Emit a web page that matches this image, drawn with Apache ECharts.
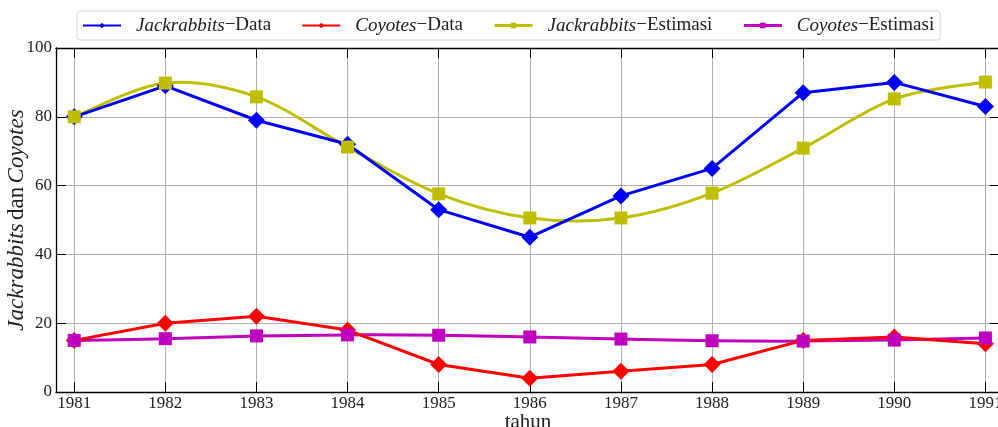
<!DOCTYPE html>
<html>
<head>
<meta charset="utf-8">
<script src="https://cdn.jsdelivr.net/npm/echarts@6/dist/echarts.min.js"></script>
<style>
  html, body { margin: 0; padding: 0; background: #fff; }
  #chart { width: 998px; height: 427px; }
</style>
</head>
<body>
<div id="chart"></div>
<script>
// Annual population counts and model estimates
const years = [1981, 1982, 1983, 1984, 1985, 1986, 1987, 1988, 1989, 1990, 1991];
const jackrabbitsData = [80, 89, 79, 72, 53, 45, 57, 65, 87, 90, 83];
const coyotesData = [15, 20, 22, 18, 8, 4, 6, 8, 15, 16, 14];
const jackrabbitsEst = [80, 89.8, 85.8, 71.2, 57.6, 50.6, 50.6, 57.8, 70.9, 85.2, 90.1];
const coyotesEst = [15, 15.5, 16.3, 16.6, 16.5, 16.0, 15.4, 14.9, 14.8, 15.1, 15.7];
const yTicks = [0, 20, 40, 60, 80, 100];

const FONT = '"Liberation Serif", "DejaVu Serif", serif';
const pairs = vals => years.map((y, i) => [y, vals[i]]);

const COLORS = { jack: '#0000ff', coy: '#ff0000', jackEst: '#bfbf00', coyEst: '#bf00bf' };

const richText = {
  i: { fontFamily: FONT, fontStyle: 'italic', fontSize: 19, color: '#222', padding: [0, 0, 0, 10] },
  r: { fontFamily: FONT, fontSize: 19, color: '#222' }
};

function lineSeries(name, vals, color, symbol, size, extra) {
  return Object.assign({
    name: name,
    type: 'line',
    data: pairs(vals),
    symbol: symbol,
    symbolSize: size,
    lineStyle: { color: color, width: 3 },
    itemStyle: { color: color },
    emphasis: { disabled: true },
    animation: false,
    xAxisIndex: 0,
    yAxisIndex: 0
  }, extra || {});
}

// Smooth curve through the estimate points (Catmull-Rom spline in pixel space)
function curveSeries(name, vals, color) {
  return {
    name: name,
    type: 'custom',
    data: pairs(vals),
    silent: true,
    animation: false,
    clip: true,
    renderItem: function (params, api) {
      if (params.dataIndex !== 0) return null;
      const pts = years.map((y, i) => api.coord([y, vals[i]]));
      const n = pts.length;
      let d = 'M' + pts[0][0] + ',' + pts[0][1];
      for (let i = 0; i < n - 1; i++) {
        const p0 = pts[Math.max(i - 1, 0)];
        const p1 = pts[i];
        const p2 = pts[i + 1];
        const p3 = pts[Math.min(i + 2, n - 1)];
        const c1x = p1[0] + (p2[0] - p0[0]) / 6;
        const c1y = p1[1] + (p2[1] - p0[1]) / 6;
        const c2x = p2[0] - (p3[0] - p1[0]) / 6;
        const c2y = p2[1] - (p3[1] - p1[1]) / 6;
        d += ' C' + c1x + ',' + c1y + ' ' + c2x + ',' + c2y + ' ' + p2[0] + ',' + p2[1];
      }
      return {
        type: 'path',
        shape: { pathData: d },
        style: { fill: null, stroke: color, lineWidth: 3 }
      };
    }
  };
}

const chart = echarts.init(document.getElementById('chart'), null, { renderer: 'canvas' });

const tickStyle = { show: true, inside: true, length: 10, lineStyle: { color: '#000', width: 1 } };
const spine = { show: true, onZero: false, lineStyle: { color: '#000', width: 1.3 } };
const gridLine = { show: true, lineStyle: { color: '#b0b0b0', width: 1 } };

chart.setOption({
  backgroundColor: '#fff',
  animation: false,
  grid: { left: 56, top: 48, width: 944, height: 344, containLabel: false, outerBoundsMode: 'none' },
  legend: {
    left: 77,
    top: 11,
    padding: [5, 6, 5, 5],
    itemWidth: 38,
    itemHeight: 7,
    itemGap: 30,
    borderColor: '#d4d4d4',
    borderWidth: 1,
    borderRadius: 3,
    textStyle: { rich: richText },
    formatter: function (name) {
      const parts = name.split('−');
      return '{i|' + parts[0] + '}{r|−' + parts[1] + '}';
    },
    data: [
      'Jackrabbits−Data',
      'Coyotes−Data',
      { name: 'Jackrabbits−Estimasi', lineStyle: { color: COLORS.jackEst, width: 3, opacity: 1 } },
      { name: 'Coyotes−Estimasi', lineStyle: { color: COLORS.coyEst, width: 3, opacity: 1 } }
    ]
  },
  xAxis: [
    {
      type: 'value',
      min: 1980.8,
      max: 1991.16,
      minInterval: 1,
      maxInterval: 1,
      position: 'bottom',
      axisLine: spine,
      axisTick: tickStyle,
      splitLine: gridLine,
      axisLabel: {
        margin: 3,
        fontFamily: FONT,
        fontSize: 17,
        color: '#222',
        formatter: v => (Number.isInteger(v) ? String(v) : '')
      },
      name: 'tahun',
      nameLocation: 'middle',
      nameGap: 20,
      nameMoveOverlap: false,
      nameTextStyle: { fontFamily: FONT, fontSize: 21, color: '#222', verticalAlign: 'top' }
    },
    {
      type: 'value',
      min: 1980.8,
      max: 1991.16,
      minInterval: 1,
      maxInterval: 1,
      position: 'top',
      axisLine: spine,
      axisTick: tickStyle,
      splitLine: { show: false },
      axisLabel: { show: false }
    }
  ],
  yAxis: [
    {
      type: 'value',
      min: yTicks[0],
      max: yTicks[yTicks.length - 1],
      interval: 20,
      position: 'left',
      axisLine: spine,
      axisTick: tickStyle,
      splitLine: gridLine,
      axisLabel: { margin: 4, fontFamily: FONT, fontSize: 17, color: '#222' },
      name: '{i|Jackrabbits} {r|dan} {i|Coyotes}',
      nameLocation: 'middle',
      nameRotate: 90,
      nameGap: 28,
      nameMoveOverlap: false,
      nameTextStyle: {
        rich: {
          i: { fontFamily: FONT, fontStyle: 'italic', fontSize: 23, color: '#222' },
          r: { fontFamily: FONT, fontSize: 23, color: '#222' }
        }
      }
    },
    {
      type: 'value',
      min: yTicks[0],
      max: yTicks[yTicks.length - 1],
      interval: 20,
      position: 'right',
      axisLine: spine,
      axisTick: tickStyle,
      splitLine: { show: false },
      axisLabel: { show: false }
    }
  ],
  series: [
    lineSeries('Jackrabbits−Data', jackrabbitsData, COLORS.jack, 'diamond', 17),
    lineSeries('Coyotes−Data', coyotesData, COLORS.coy, 'diamond', 17),
    curveSeries('Jackrabbits−Estimasi kurva', jackrabbitsEst, COLORS.jackEst),
    curveSeries('Coyotes−Estimasi kurva', coyotesEst, COLORS.coyEst),
    lineSeries('Jackrabbits−Estimasi', jackrabbitsEst, COLORS.jackEst, 'rect', 13,
      { lineStyle: { color: COLORS.jackEst, width: 3, opacity: 0 } }),
    lineSeries('Coyotes−Estimasi', coyotesEst, COLORS.coyEst, 'rect', 13,
      { lineStyle: { color: COLORS.coyEst, width: 3, opacity: 0 } })
  ]
});
</script>
</body>
</html>
